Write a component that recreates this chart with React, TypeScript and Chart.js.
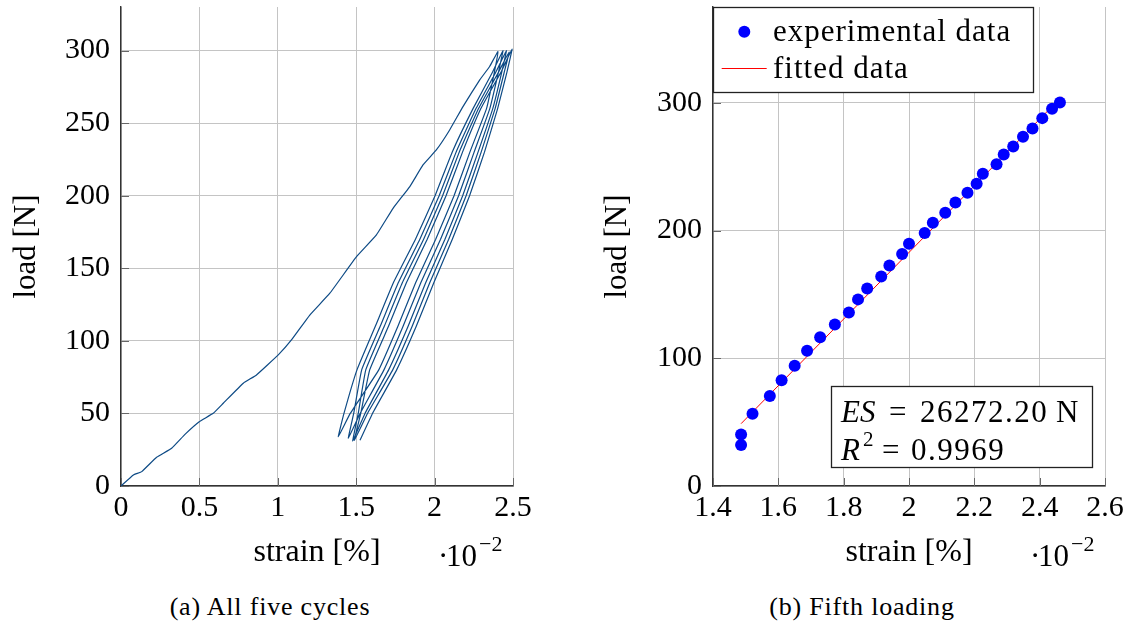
import React, { useEffect, useRef } from "react";
import { Chart, registerables } from "chart.js";

Chart.register(...registerables);

const FONT = "'Liberation Serif', 'Times New Roman', serif";

// ---------- Left panel: all five cycles (strain ·10^-2 %, load N) ----------
const loading1: [number, number][] = [
  [0, 0], [0.079, 7.6], [0.132, 9.9], [0.227, 19.8], [0.323, 26.0], [0.408, 35.6],
  [0.499, 44.3], [0.588, 50.1], [0.652, 57.0], [0.78, 70.8], [0.864, 76.5],
  [1.003, 90.3], [1.087, 100.6], [1.204, 117.8], [1.332, 132.8], [1.502, 158.0],
  [1.629, 173.0], [1.735, 191.3], [1.842, 206.3], [1.926, 221.2], [2.011, 231.5],
  [2.096, 245.3], [2.181, 261.4], [2.288, 279.8], [2.351, 289.0], [2.404, 299.3],
];
const unload1: [number, number][] = [
  [2.381, 285], [2.331, 260], [2.225, 230], [2.124, 200], [2.007, 170], [1.879, 140],
  [1.766, 110], [1.644, 80], [1.462, 50], [1.386, 34],
];
const loading2: [number, number][] = [
  [1.422, 50], [1.505, 80], [1.622, 110], [1.737, 140], [1.878, 170], [2.003, 200],
  [2.112, 230], [2.245, 260], [2.369, 285], [2.436, 300],
];
const unload2: [number, number][] = [
  [2.407, 285], [2.352, 260], [2.252, 230], [2.153, 200], [2.038, 170], [1.912, 140],
  [1.799, 110], [1.677, 80], [1.525, 50], [1.45, 33],
];
const loading3: [number, number][] = [
  [1.484, 50], [1.535, 80], [1.653, 110], [1.768, 140], [1.906, 170], [2.029, 200],
  [2.137, 230], [2.264, 260], [2.39, 285], [2.458, 300],
];
const unload3: [number, number][] = [
  [2.428, 285], [2.371, 260], [2.277, 230], [2.179, 200], [2.066, 170], [1.943, 140],
  [1.831, 110], [1.707, 80], [1.556, 50], [1.478, 31],
];
const loading4: [number, number][] = [
  [1.513, 50], [1.561, 80], [1.679, 110], [1.794, 140], [1.93, 170], [2.051, 200],
  [2.157, 230], [2.28, 260], [2.407, 285], [2.475, 299],
];
const unload4: [number, number][] = [
  [2.444, 285], [2.386, 260], [2.297, 230], [2.201, 200], [2.09, 170], [1.969, 140],
  [1.857, 110], [1.733, 80], [1.572, 50], [1.488, 31.5],
];
const loading5: [number, number][] = [
  [1.529, 50], [1.586, 80], [1.706, 110], [1.82, 140], [1.953, 170], [2.073, 200],
  [2.178, 230], [2.295, 260], [2.423, 285], [2.494, 301],
];
const unload5: [number, number][] = [
  [2.461, 285], [2.402, 260], [2.318, 230], [2.223, 200], [2.113, 170], [1.995, 140],
  [1.883, 110], [1.758, 80], [1.604, 50], [1.524, 31.5],
];

const leftXTicks = [0, 0.5, 1, 1.5, 2, 2.5];
const leftYTicks = [0, 50, 100, 150, 200, 250, 300];

// ---------- Right panel: fifth loading ----------
const expStrain = [
  1.486, 1.486, 1.521, 1.574, 1.61, 1.65, 1.688, 1.728, 1.773, 1.816, 1.844, 1.872,
  1.915, 1.94, 1.979, 2.0, 2.048, 2.073, 2.111, 2.142, 2.179, 2.207, 2.226, 2.268,
  2.29, 2.319, 2.349, 2.378, 2.408, 2.438, 2.462,
];
const expLoad = [
  32.1, 40.4, 56.6, 70.4, 82.7, 94.2, 105.9, 116.4, 126.5, 135.9, 146.1, 154.7,
  164.1, 172.7, 181.6, 189.7, 198.0, 206.1, 213.9, 222.0, 229.6, 236.6, 244.5, 251.8,
  259.6, 265.8, 273.4, 279.9, 288.0, 295.3, 300.3,
];
const fitStrain = [1.486, 2.467];
const fitLoad = [48.8, 304.7];

const rightXTicks = [1.4, 1.6, 1.8, 2.0, 2.2, 2.4, 2.6];
const rightYTicks = [0, 100, 200, 300];

const legendLabels = ["experimental data", "fitted data"];
const esValue = "26272.20";
const r2Value = "0.9969";

const xTitle = "strain [%]";
const yTitle = "load [N]";
const captionA = "(a) All five cycles";
const captionB = "(b) Fifth loading";

const fmt = (v: number) => String(Math.round(v * 10) / 10);

function drawExponent(ctx: CanvasRenderingContext2D, x: number, y: number) {
  ctx.save();
  ctx.fillStyle = "#000";
  ctx.textAlign = "left";
  ctx.textBaseline = "alphabetic";
  ctx.font = `31px ${FONT}`;
  ctx.fillText("·", x, y);
  ctx.fillText("10", x + 8, y);
  const w = ctx.measureText("10").width;
  ctx.font = `22px ${FONT}`;
  ctx.fillText("−2", x + 8 + w + 2, y - 15);
  ctx.restore();
}

function innerTicksPlugin(len: number) {
  return {
    id: "innerTicks",
    beforeDatasetsDraw(chart: any) {
      const { ctx, chartArea } = chart;
      const xs = chart.scales.x;
      const ys = chart.scales.y;
      ctx.save();
      ctx.strokeStyle = "#666";
      ctx.lineWidth = 1;
      ctx.beginPath();
      ys.ticks.forEach((t: any) => {
        const py = Math.round(ys.getPixelForValue(t.value)) + 0.5;
        ctx.moveTo(chartArea.left, py);
        ctx.lineTo(chartArea.left + len, py);
      });
      xs.ticks.forEach((t: any) => {
        const px = Math.round(xs.getPixelForValue(t.value)) + 0.5;
        ctx.moveTo(px, chartArea.bottom);
        ctx.lineTo(px, chartArea.bottom - len);
      });
      ctx.stroke();
      ctx.restore();
    },
  };
}

function makeScales(
  xMin: number, xMax: number, xTicks: number[],
  yMax: number, yTicks: number[],
  yWidth: number, xHeight: number, yTitlePad: number
) {
  const tickFont = { family: FONT, size: 30 };
  return {
    x: {
      type: "linear",
      min: xMin,
      max: xMax,
      afterBuildTicks: (s: any) => { s.ticks = xTicks.map((v) => ({ value: v })); },
      afterFit: (s: any) => { s.height = xHeight; s.paddingLeft = 0; s.paddingRight = 0; },
      ticks: { color: "#000", font: tickFont, padding: 4, maxRotation: 0, autoSkip: false, callback: (v: any) => fmt(Number(v)) },
      grid: { color: "#c4c4c4", lineWidth: 1, drawTicks: false },
      border: { display: true, color: "#333", width: 1.4 },
      title: { display: true, text: xTitle, color: "#000", font: { family: FONT, size: 32 }, padding: { top: 0, bottom: 8 } },
    },
    y: {
      type: "linear",
      min: 0,
      max: yMax,
      afterBuildTicks: (s: any) => { s.ticks = yTicks.map((v) => ({ value: v })); },
      afterFit: (s: any) => { s.width = yWidth; s.paddingTop = 0; s.paddingBottom = 0; },
      ticks: { color: "#000", font: tickFont, padding: 11, autoSkip: false, callback: (v: any) => fmt(Number(v)) },
      grid: { color: "#c4c4c4", lineWidth: 1, drawTicks: false },
      border: { display: true, color: "#333", width: 1.4 },
      title: { display: true, text: yTitle, color: "#000", font: { family: FONT, size: 31 }, padding: { top: yTitlePad, bottom: 0 } },
    },
  };
}

function LeftChart() {
  const ref = useRef<HTMLCanvasElement>(null);
  useEffect(() => {
    const segs = [loading1, unload1, loading2, unload2, loading3, unload3, loading4, unload4, loading5, unload5];
    const path = segs.flat().map(([x, y]) => ({ x, y }));
    const chart = new Chart(ref.current!, {
      type: "scatter",
      data: {
        datasets: [
          {
            label: "cycles",
            data: path,
            showLine: true,
            borderColor: "#0d4a85",
            borderWidth: 1.2,
            pointRadius: 0,
            tension: 0.1,
            fill: false,
          },
        ],
      },
      options: {
        responsive: false,
        animation: false,
        events: [],
        layout: { padding: { top: 7, right: 47, left: 0, bottom: 0 } },
        plugins: { legend: { display: false }, tooltip: { enabled: false } },
        scales: makeScales(0, 2.5, leftXTicks, 330, leftYTicks, 121, 94, 8) as any,
      },
      plugins: [
        innerTicksPlugin(8),
        {
          id: "exp",
          afterDraw(c: any) { drawExponent(c.ctx, 438, 566); },
        },
      ],
    });
    return () => chart.destroy();
  }, []);
  return <canvas ref={ref} width={560} height={580} style={{ position: "absolute", left: 0, top: 0 }} />;
}

function RightChart() {
  const ref = useRef<HTMLCanvasElement>(null);
  useEffect(() => {
    const chart = new Chart(ref.current!, {
      type: "scatter",
      data: {
        datasets: [
          {
            label: legendLabels[0],
            data: expStrain.map((x, i) => ({ x, y: expLoad[i] })),
            backgroundColor: "#0000ff",
            borderWidth: 0,
            pointRadius: 6,
            showLine: false,
          },
          {
            label: legendLabels[1],
            data: fitStrain.map((x, i) => ({ x, y: fitLoad[i] })),
            borderColor: "#ff0000",
            borderWidth: 1,
            pointRadius: 0,
            showLine: true,
          },
        ],
      },
      options: {
        responsive: false,
        animation: false,
        events: [],
        layout: { padding: { top: 7, right: 30, left: 0, bottom: 0 } },
        plugins: { legend: { display: false }, tooltip: { enabled: false } },
        scales: makeScales(1.4, 2.6, rightXTicks, 375, rightYTicks, 133, 94, 19) as any,
      },
      plugins: [
        innerTicksPlugin(8),
        {
          id: "boxes",
          afterDraw(c: any) {
            const ctx: any = c.ctx;
            drawExponent(ctx, 450, 566);
            // legend box
            ctx.save();
            ctx.fillStyle = "#fff";
            ctx.fillRect(133, 7, 320, 85);
            ctx.strokeStyle = "#222";
            ctx.lineWidth = 1.3;
            ctx.strokeRect(133.5, 7.5, 320, 85);
            ctx.fillStyle = "#0000ff";
            ctx.beginPath();
            ctx.arc(164.3, 31.7, 6, 0, Math.PI * 2);
            ctx.fill();
            ctx.strokeStyle = "#ff0000";
            ctx.lineWidth = 1;
            ctx.beginPath();
            ctx.moveTo(141.7, 68.5);
            ctx.lineTo(186.7, 68.5);
            ctx.stroke();
            ctx.fillStyle = "#000";
            ctx.font = `31px ${FONT}`;
            ctx.textAlign = "left";
            ctx.textBaseline = "alphabetic";
            ctx.letterSpacing = "1px";
            ctx.fillText(legendLabels[0], 193, 41);
            ctx.fillText(legendLabels[1], 193, 78);
            ctx.letterSpacing = "0px";
            // annotation box
            ctx.fillStyle = "#fff";
            ctx.fillRect(251, 386, 261, 81);
            ctx.strokeStyle = "#222";
            ctx.lineWidth = 1.3;
            ctx.strokeRect(251.5, 386.5, 261, 81);
            ctx.fillStyle = "#000";
            ctx.font = `italic 31px ${FONT}`;
            ctx.fillText("ES", 261, 422);
            ctx.font = `31px ${FONT}`;
            ctx.fillText("=", 309, 422);
            ctx.letterSpacing = "1.5px";
            ctx.fillText(esValue, 340, 422);
            ctx.letterSpacing = "0px";
            ctx.fillText("N", 476, 422);
            ctx.font = `italic 31px ${FONT}`;
            ctx.fillText("R", 261, 460);
            ctx.font = `21px ${FONT}`;
            ctx.fillText("2", 283, 446);
            ctx.font = `31px ${FONT}`;
            ctx.fillText("=", 302, 460);
            ctx.letterSpacing = "1.5px";
            ctx.fillText(r2Value, 331, 460);
            ctx.letterSpacing = "0px";
            ctx.restore();
          },
        },
      ],
    });
    return () => chart.destroy();
  }, []);
  return <canvas ref={ref} width={555} height={580} style={{ position: "absolute", left: 580, top: 0 }} />;
}

const captionStyle: React.CSSProperties = {
  position: "absolute",
  top: 590,
  width: 400,
  textAlign: "center",
  fontFamily: FONT,
  fontSize: 26,
  letterSpacing: "0.8px",
  lineHeight: "34px",
  color: "#000",
};

export default function App() {
  return (
    <div style={{ position: "absolute", left: 0, top: 0, width: 1135, height: 625, background: "#fff", overflow: "hidden" }}>
      <LeftChart />
      <RightChart />
      <div style={{ ...captionStyle, left: 70 }}>{captionA}</div>
      <div style={{ ...captionStyle, left: 662 }}>{captionB}</div>
    </div>
  );
}
